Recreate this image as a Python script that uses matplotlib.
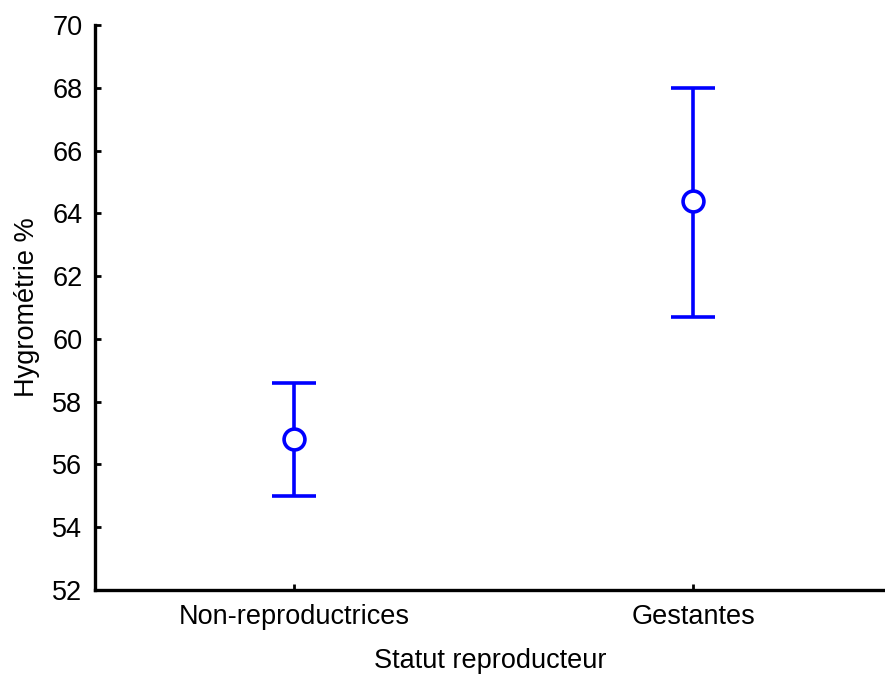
import matplotlib
matplotlib.use("Agg")
import matplotlib.pyplot as plt

# Reproductive status groups and humidity (%) summary values
categories = ["Non-reproductrices", "Gestantes"]
means = [56.8, 64.4]
upper = [58.6, 68.0]
lower = [55.0, 60.7]

plt.rcParams['font.family'] = ['Liberation Sans', 'DejaVu Sans']

fig = plt.figure(figsize=(8.85, 6.75), dpi=100)
ax = fig.add_axes([0.1073, 0.126, 0.8927, 0.837])

xs = list(range(len(categories)))
err_lo = [m - l for m, l in zip(means, lower)]
err_hi = [u - m for m, u in zip(means, upper)]

ax.errorbar(xs, means, yerr=[err_lo, err_hi], fmt='o', color='#0000ff',
            ecolor='#0000ff', elinewidth=2.6, capsize=15.5, capthick=2.6,
            markersize=15, markerfacecolor='white', markeredgewidth=2.6,
            markeredgecolor='#0000ff')

ax.set_xlim(-0.5, 1.48)
ax.set_ylim(52, 70)
ax.set_yticks(range(52, 71, 2))
ax.set_xticks(xs)
ax.set_xticklabels(categories)

for side in ('top', 'right'):
    ax.spines[side].set_visible(False)
for side in ('left', 'bottom'):
    ax.spines[side].set_linewidth(2.4)

ax.tick_params(direction='in', length=4, width=2, labelsize=19.5)
ax.tick_params(axis='y', pad=9)
ax.tick_params(axis='x', pad=10)
ax.set_ylabel("Hygrométrie %", fontsize=19.5, labelpad=9)
ax.set_xlabel("Statut reproducteur", fontsize=19.5, labelpad=13)

fig.savefig("out.png", dpi=100)
